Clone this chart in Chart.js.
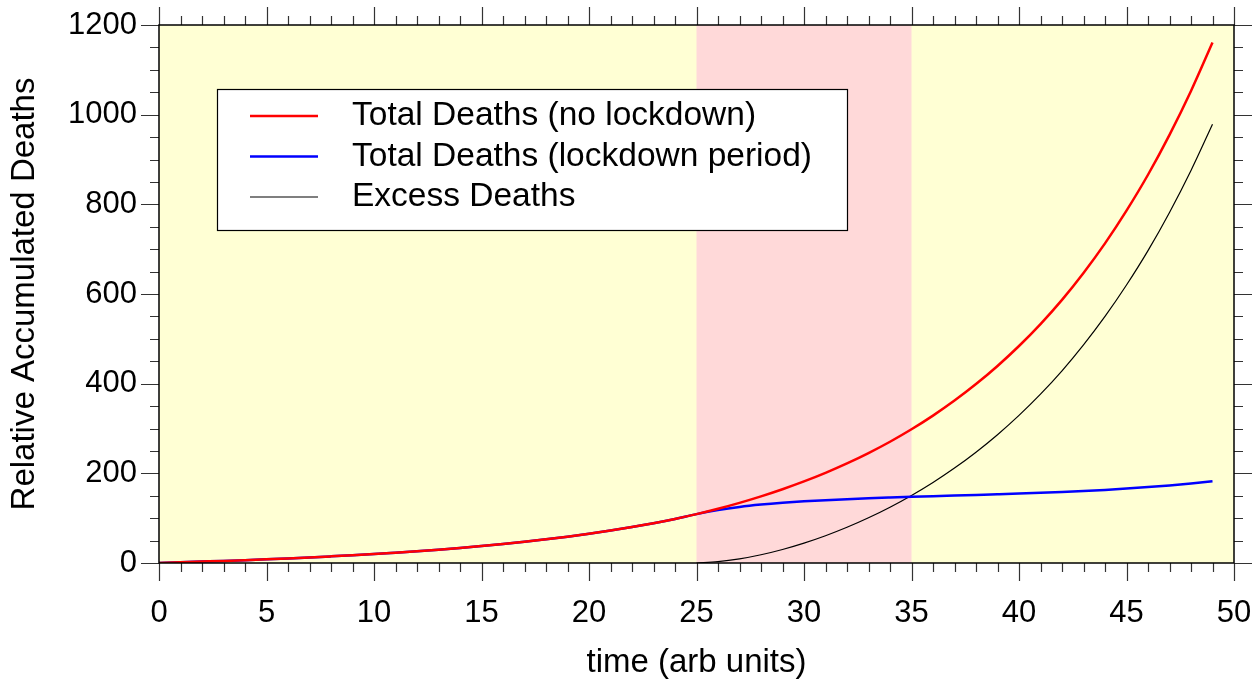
<!DOCTYPE html>
<html>
<head>
<meta charset="utf-8">
<script src="https://cdn.jsdelivr.net/npm/chart.js@4.4.0/dist/chart.umd.min.js"></script>
<style>
  html, body { margin: 0; padding: 0; background: #fff; }
  #wrap { width: 1259px; height: 679px; }
</style>
</head>
<body>
<div id="wrap"><canvas id="chart" width="1259" height="679"></canvas></div>
<script>
// Data
const time = [0,1,2,3,4,5,6,7,8,9,10,11,12,13,14,15,16,17,18,19,20,21,22,23,24,
  25,26,27,28,29,30,31,32,33,34,35,36,37,38,39,40,41,42,43,44,45,46,47,48,49];
const noLockdown = [0,1.5,3.1,4.7,6.4,8.2,10.2,12.4,14.8,17.3,20,23.1,26.3,29.8,33.7,
  38,42.5,47.4,52.8,58.7,65.2,72.3,80.1,88.7,98.3,109,121,134.2,148.7,164.6,
  182,201.1,222.1,245.2,270.5,298.3,328.8,362.3,399.1,439.5,
  484,533,587,647,713,786,866,955,1053,1161];
const lockdown = [0,1.5,3.1,4.7,6.4,8.2,10.2,12.4,14.8,17.3,20,23.1,26.3,29.8,33.7,
  38,42.5,47.4,52.8,58.7,65.2,72.3,80.1,88.7,98.3,109,118,125,130.3,134.4,
  137.6,140.2,142.4,144.3,146,147.6,149.1,150.5,151.9,153.3,
  154.8,156.5,158.4,160.6,163.1,166,169.3,173.1,177.4,182.3];
// excess deaths only exist from the start of lockdown (t = 25)
const excessStart = 25;
const excess = [0,3,9.2,18.4,30.2,44.4,60.9,79.7,100.9,124.5,150.7,179.7,211.8,247.2,286.2,
  329.2,376.5,428.6,486.4,549.9,620,696.7,781.9,875.6,978.7];
const lockdownPeriod = [25, 35];
const seriesLabels = ['Total Deaths (no lockdown)', 'Total Deaths (lockdown period)', 'Excess Deaths'];

const FONT = '"Liberation Sans", Arial, Helvetica, sans-serif';

const toPoints = (ys, offset = 0) => ys.map((y, i) => ({ x: time[i + offset], y }));

function noScalePadding(scale) {
  scale.paddingLeft = 0; scale.paddingRight = 0;
  scale.paddingTop = 0; scale.paddingBottom = 0;
}

// Background shading, frame, ticks on all four sides, and the boxed legend
const decorPlugin = {
  id: 'decor',
  beforeDatasetsDraw(chart) {
    const { ctx, chartArea: a, scales: { x } } = chart;
    ctx.save();
    ctx.fillStyle = '#FFFFD4';
    ctx.fillRect(a.left, a.top, a.right - a.left, a.bottom - a.top);
    const x0 = x.getPixelForValue(lockdownPeriod[0]);
    const x1 = x.getPixelForValue(lockdownPeriod[1]);
    ctx.fillStyle = '#FFD9D9';
    ctx.fillRect(x0, a.top, x1 - x0, a.bottom - a.top);
    ctx.restore();
  },
  afterDatasetsDraw(chart) {
    const { ctx, chartArea: a, scales: { x, y } } = chart;
    ctx.save();
    ctx.strokeStyle = '#333';
    ctx.lineWidth = 1.2;
    ctx.beginPath();
    for (let v = 0; v <= 50; v++) {
      const px = Math.round(x.getPixelForValue(v)) + 0.5;
      const len = v % 5 === 0 ? 18 : 9;
      ctx.moveTo(px, a.bottom); ctx.lineTo(px, a.bottom + len);
      ctx.moveTo(px, a.top); ctx.lineTo(px, a.top - len);
    }
    for (let v = 0; v <= 1200; v += 50) {
      const py = Math.round(y.getPixelForValue(v)) + 0.5;
      const len = v % 200 === 0 ? 18 : 9;
      ctx.moveTo(a.left, py); ctx.lineTo(a.left - len, py);
      ctx.moveTo(a.right, py); ctx.lineTo(a.right + len, py);
    }
    ctx.stroke();
    ctx.strokeStyle = '#000';
    ctx.lineWidth = 1.5;
    ctx.strokeRect(a.left, a.top, a.right - a.left, a.bottom - a.top);

    // legend box
    const bx = 217, by = 89, bw = 630, bh = 141;
    ctx.fillStyle = '#fff';
    ctx.fillRect(bx, by, bw, bh);
    ctx.lineWidth = 1.2;
    ctx.strokeRect(bx + 0.5, by + 0.5, bw, bh);
    ctx.font = '33.5px ' + FONT;
    ctx.textBaseline = 'middle';
    ctx.textAlign = 'left';
    chart.data.datasets.forEach((ds, i) => {
      const ry = 116 + i * 40.5;
      ctx.strokeStyle = ds.borderColor;
      ctx.lineWidth = ds.borderWidth;
      ctx.beginPath();
      ctx.moveTo(250, ry); ctx.lineTo(318, ry);
      ctx.stroke();
      ctx.fillStyle = '#000';
      ctx.fillText(ds.label, 352, ry);
    });
    ctx.restore();
  }
};

new Chart(document.getElementById('chart'), {
  type: 'line',
  data: {
    datasets: [
      { label: seriesLabels[0], data: toPoints(noLockdown), borderColor: '#FF0000', borderWidth: 2.5 },
      { label: seriesLabels[1], data: toPoints(lockdown), borderColor: '#0000FF', borderWidth: 2.5 },
      { label: seriesLabels[2], data: toPoints(excess, excessStart), borderColor: '#000000', borderWidth: 1.2 }
    ]
  },
  options: {
    responsive: false,
    animation: false,
    devicePixelRatio: 1,
    layout: { padding: { top: 25, right: 25, left: 0, bottom: 0 } },
    elements: {
      point: { radius: 0 },
      line: { cubicInterpolationMode: 'monotone', fill: false }
    },
    plugins: { legend: { display: false }, tooltip: { enabled: false } },
    scales: {
      x: {
        type: 'linear', min: 0, max: 50,
        grid: { display: false }, border: { display: false },
        ticks: { stepSize: 5, autoSkip: false, maxRotation: 0, padding: 24, color: '#000', font: { family: FONT, size: 31 } },
        title: { display: true, text: 'time (arb units)', color: '#000', padding: 0, font: { family: FONT, size: 33, lineHeight: 1 } },
        afterFit(scale) { scale.height = 116; noScalePadding(scale); }
      },
      y: {
        min: 0, max: 1200,
        grid: { display: false }, border: { display: false },
        ticks: { stepSize: 200, padding: 14, color: '#000', font: { family: FONT, size: 31 },
          callback: v => String(v) },
        title: { display: true, text: 'Relative Accumulated Deaths', color: '#000', padding: { top: 8, bottom: 0 }, font: { family: FONT, size: 33, lineHeight: 1 } },
        afterFit(scale) { scale.width = 159; noScalePadding(scale); }
      }
    }
  },
  plugins: [decorPlugin]
});
</script>
</body>
</html>
